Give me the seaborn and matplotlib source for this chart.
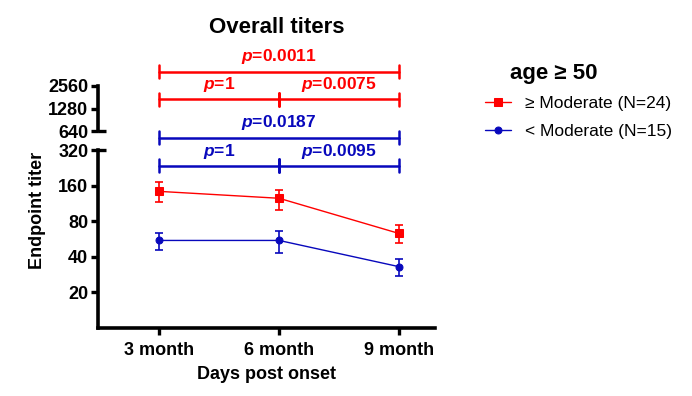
import numpy as np
import matplotlib
matplotlib.use("Agg")
import matplotlib.pyplot as plt
import matplotlib.transforms as mtransforms
from matplotlib.ticker import FixedLocator, FixedFormatter, NullLocator
import seaborn as sns

# data
timepoints = ["3 month", "6 month", "9 month"]
groups = ["\u2265 Moderate (N=24)", "< Moderate (N=15)"]
mod_mean = [143, 125, 63]
mod_low = [116, 100, 52]
mod_high = [171, 146, 74]
low_mean = [55, 55, 33]
low_low = [46, 43, 27.5]
low_high = [64, 66, 38]
lower_ticks = [20, 40, 80, 160, 320]
upper_ticks = [640, 1280, 2560]
p_mod_all = "0.0011"
p_mod_pair = ["1", "0.0075"]
p_low_all = "0.0187"
p_low_pair = ["1", "0.0095"]

RED = "#FF0000"
BLUE = "#0808BC"

sns.set_theme(style="ticks")
plt.rcParams["font.family"] = ["Liberation Sans", "DejaVu Sans"]
plt.rcParams["mathtext.fontset"] = "custom"
plt.rcParams["mathtext.it"] = "Liberation Sans:italic:bold"
plt.rcParams["mathtext.rm"] = "Liberation Sans:bold"
for key in ["text.color", "axes.labelcolor", "xtick.color", "ytick.color",
            "axes.edgecolor"]:
    plt.rcParams[key] = "black"

fig = plt.figure(figsize=(6.92, 3.96), dpi=100)
W, H = 692, 396


def fx(px):
    return px / W


def fy(py):
    return 1 - py / H


ax = fig.add_axes([fx(98), fy(328), fx(435) - fx(98), fy(150) - fy(328)])
ax_up = fig.add_axes([fx(98), fy(131), fx(435) - fx(98), fy(86) - fy(131)])

x = np.arange(len(timepoints))

for mean, lo, hi, col, mk, ms, lab in [
    (mod_mean, mod_low, mod_high, RED, "s", 6, groups[0]),
    (low_mean, low_low, low_high, BLUE, "o", 5, groups[1]),
]:
    mean = np.array(mean, dtype=float)
    yerr = [mean - np.array(lo), np.array(hi) - mean]
    ax.errorbar(x, mean, yerr=yerr, fmt="none", ecolor=col, elinewidth=1.2,
                capsize=3, capthick=1.2, zorder=2)
    sns.lineplot(x=x, y=mean, ax=ax, color=col, marker=mk, markersize=ms,
                 markeredgecolor=col, linewidth=1, label=lab, zorder=3)

# lower axis
ax.set_yscale("log", base=2)
ax.set_ylim(10, 320)
ax.yaxis.set_major_locator(FixedLocator(lower_ticks))
ax.yaxis.set_major_formatter(FixedFormatter([str(t) for t in lower_ticks]))
ax.yaxis.set_minor_locator(NullLocator())
ax.set_xlim(-0.51, 2.3)
ax.set_xticks(x)
ax.set_xticklabels(timepoints)
ax.set_xlabel("Days post onset", fontsize=13, fontweight="bold", labelpad=5)
ax.set_ylabel("")
for s in ["top", "right"]:
    ax.spines[s].set_visible(False)
for s in ["left", "bottom"]:
    ax.spines[s].set_linewidth(2.6)
    ax.spines[s].set_color("black")
ax.tick_params(axis="both", length=5, width=2.4, color="black", pad=2,
               labelsize=13, labelcolor="black")
ax.tick_params(axis="x", pad=5)
for t in ax.get_xticklabels() + ax.get_yticklabels():
    t.set_fontweight("bold")
ax.plot([0, 0.025], [1, 1], transform=ax.transAxes, color="black",
        lw=2.4, clip_on=False, solid_capstyle="butt")

# upper axis
ax_up.set_yscale("log", base=2)
ax_up.set_ylim(640, 2560)
ax_up.yaxis.set_major_locator(FixedLocator(upper_ticks))
ax_up.yaxis.set_major_formatter(FixedFormatter([str(t) for t in upper_ticks]))
ax_up.yaxis.set_minor_locator(NullLocator())
ax_up.set_xlim(ax.get_xlim())
ax_up.set_xticks([])
ax_up.patch.set_visible(False)
for s in ["top", "right", "bottom"]:
    ax_up.spines[s].set_visible(False)
ax_up.spines["left"].set_linewidth(2.6)
ax_up.spines["left"].set_color("black")
ax_up.tick_params(axis="y", length=5, width=2.4, color="black", pad=2,
                  labelsize=13, labelcolor="black")
for t in ax_up.get_yticklabels():
    t.set_fontweight("bold")
ax_up.plot([0, 0.025], [0, 0], transform=ax_up.transAxes, color="black",
           lw=2.4, clip_on=False, solid_capstyle="butt")

# significance brackets
trans = mtransforms.blended_transform_factory(ax.transData, fig.transFigure)
cap = 6.5 / H


def bracket(x0, x1, ypx, col, text, mid=None):
    y = fy(ypx)
    fig.lines.append(plt.Line2D([x0, x1], [y, y], transform=trans, color=col, lw=1.8))
    for xe in [x0, x1] + ([mid] if mid is not None else []):
        fig.lines.append(plt.Line2D([xe, xe], [y - cap, y + cap], transform=trans,
                                    color=col, lw=1.8))
    fig.text((x0 + x1) / 2, y + 5 / H, r"$p$=" + text, transform=trans,
             ha="center", va="bottom", color=col, fontsize=12.5, fontweight="bold")


bracket(x[0], x[2], 71.5, RED, p_mod_all)
bracket(x[0], x[1], 99, RED, p_mod_pair[0], mid=x[1])
bracket(x[1], x[2], 99, RED, p_mod_pair[1])
bracket(x[0], x[2], 137.5, BLUE, p_low_all)
bracket(x[0], x[1], 166, BLUE, p_low_pair[0], mid=x[1])
bracket(x[1], x[2], 166, BLUE, p_low_pair[1])

# titles
fig.text(fx(277), fy(33), "Overall titers", ha="center", va="baseline",
         fontsize=16, fontweight="bold", color="black")
fig.text(fx(37), fy(210), "Endpoint titer", ha="center", va="center",
         rotation=90, fontsize=13, fontweight="bold", color="black")

# legend
ax.legend_.remove()
handles, labels = ax.get_legend_handles_labels()
fig.text(fx(510), fy(79), "age \u2265 50", ha="left", va="baseline",
         fontsize=16, fontweight="bold", color="black")
fig.legend(handles, labels, loc="upper left", bbox_to_anchor=(fx(485), fy(96)),
           frameon=False, fontsize=12.5, handlelength=1.48, handletextpad=0.8,
           labelspacing=0.72, borderaxespad=0, borderpad=0, labelcolor="black")

fig.savefig("out.png", dpi=100)
